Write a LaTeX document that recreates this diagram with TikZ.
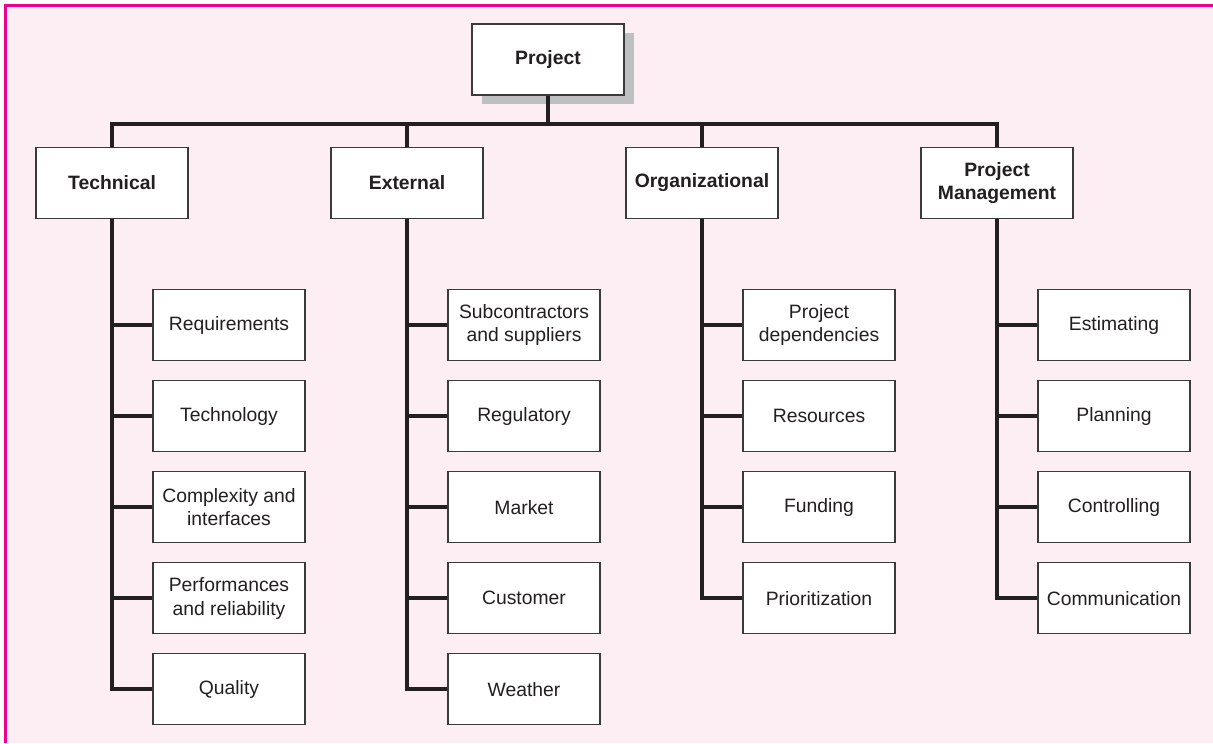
\documentclass[tikz,border=0pt]{standalone}
\usepackage{fontspec}
\setmainfont{Liberation Sans}
\usepackage{xcolor}
\definecolor{frameMagenta}{HTML}{EC008C}
\definecolor{panelPink}{HTML}{FDEEF4}
\definecolor{inkDark}{HTML}{231F20}
\definecolor{boxEdge}{HTML}{3A3A3C}
\definecolor{shadowGray}{HTML}{BEBFC1}
\usepackage{tikz}
\usetikzlibrary{positioning, shadows}

\begin{document}
\begin{tikzpicture}[
  top/.style={draw=boxEdge, line width=0.6pt, fill=white, minimum width=3.04cm, minimum height=1.42cm, align=center, text=inkDark, font=\fontsize{11}{13}\selectfont\bfseries},
  leaf/.style={draw=boxEdge, line width=0.6pt, fill=white, minimum width=3.04cm, minimum height=1.42cm, align=center, text=inkDark, font=\fontsize{11}{13.5}\selectfont},
  link/.style={draw=inkDark, line width=2pt},
  node distance=0.38cm
]
  \useasboundingbox (0,0) rectangle (24.26,-14.86);
  \fill[panelPink] (0.09,-0.09) rectangle (24.26,-14.86);
  \draw[frameMagenta, line width=1.8pt] (0.11,-14.86) -- (0.11,-0.11) -- (24.26,-0.11);

  % top of the tree
  \node[top, drop shadow={shadow xshift=0.2cm, shadow yshift=-0.18cm, fill=shadowGray, opacity=1}] (prj) at (10.96,-1.19) {Project};
  \coordinate (bus) at (0,-2.48);

  \node[top] (tec) at (2.24,-3.66) {Technical};
  \node[top] (ext) at (8.14,-3.66) {External};
  \node[top] (org) at (14.04,-3.66) {Organizational};
  \node[top] (pm)  at (19.94,-3.66) {Project\\Management};

  % Technical
  \node[leaf] (req) at (4.58,-6.5) {Requirements};
  \node[leaf, below=of req] (tey) {Technology};
  \node[leaf, below=of tey] (cpx) {Complexity and\\interfaces};
  \node[leaf, below=of cpx] (prf) {Performances\\and reliability};
  \node[leaf, below=of prf] (qua) {Quality};

  % External
  \node[leaf] (sub) at (10.48,-6.5) {Subcontractors\\and suppliers};
  \node[leaf, below=of sub] (reg) {Regulatory};
  \node[leaf, below=of reg] (mkt) {Market};
  \node[leaf, below=of mkt] (cus) {Customer};
  \node[leaf, below=of cus] (wea) {Weather};

  % Organizational
  \node[leaf] (dep) at (16.38,-6.5) {Project\\dependencies};
  \node[leaf, below=of dep] (res) {Resources};
  \node[leaf, below=of res] (fun) {Funding};
  \node[leaf, below=of fun] (pri) {Prioritization};

  % Project Management
  \node[leaf] (est) at (22.28,-6.5) {Estimating};
  \node[leaf, below=of est] (pla) {Planning};
  \node[leaf, below=of pla] (con) {Controlling};
  \node[leaf, below=of con] (com) {Communication};

  \draw[link] (prj.south) -- (prj.south |- bus);
  \draw[link] (tec.north) |- (pm.north |- bus) -- (pm.north);
  \foreach \c in {ext, org}
    \draw[link] (\c.north) -- (\c.north |- bus);

  \foreach \c/\last/\rest in {tec/qua/{req,tey,cpx,prf}, ext/wea/{sub,reg,mkt,cus}, org/pri/{dep,res,fun}, pm/com/{est,pla,con}}{
    \draw[link] (\c.south) |- (\last.west);
    \foreach \l in \rest
      \draw[link] (\l.west -| \c.south) -- (\l.west);
  }
\end{tikzpicture}
\end{document}
